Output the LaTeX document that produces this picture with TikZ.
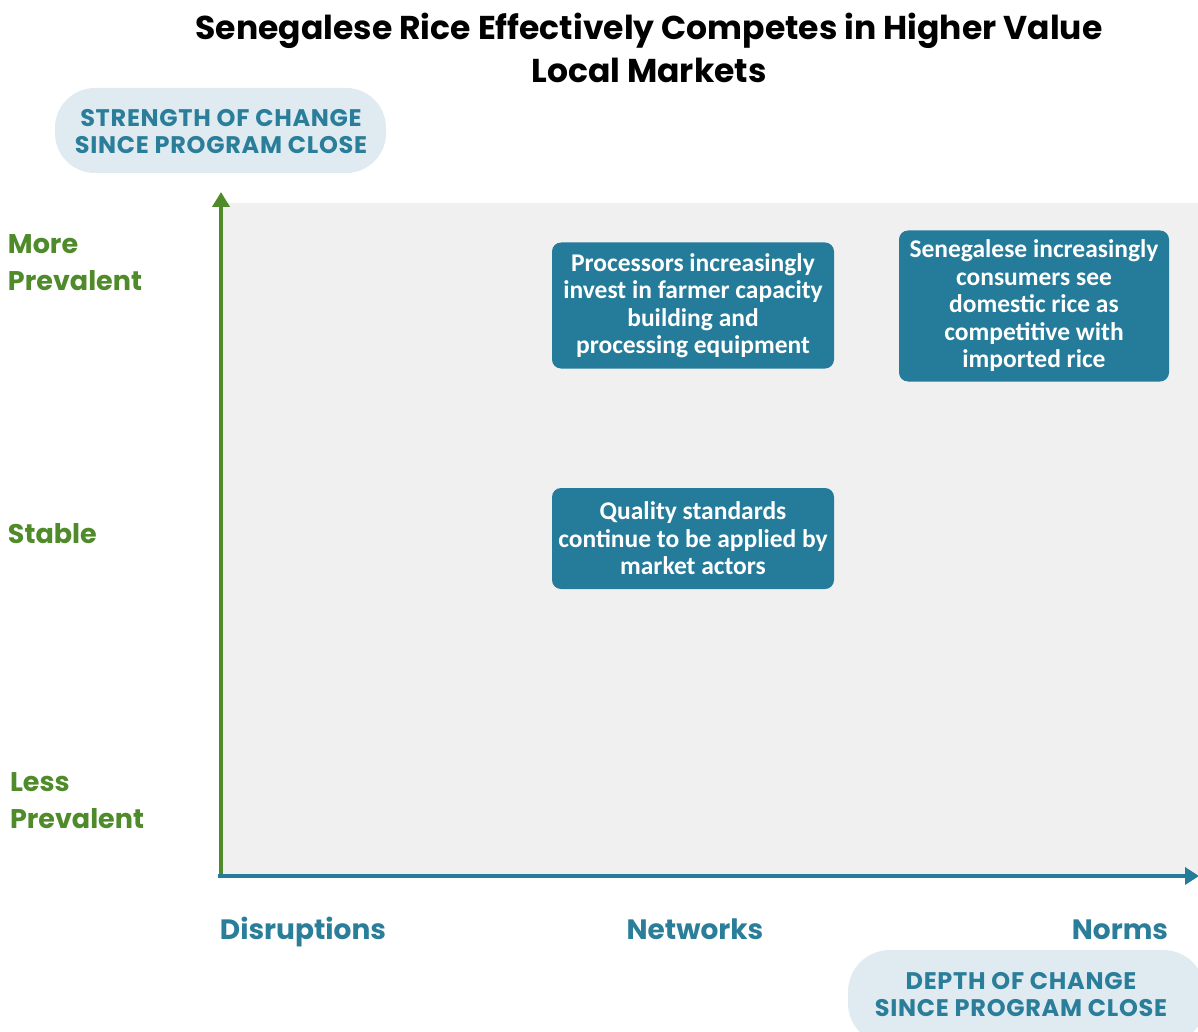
\documentclass[tikz,border=0pt]{standalone}
\usepackage{fontspec}
\setmainfont{Poppins}
\newfontfamily\boxfont{Carlito}
\newfontfamily\pillfont[LetterSpace=3]{Poppins}
\usetikzlibrary{arrows.meta}
\definecolor{teal1}{HTML}{247C9A}
\definecolor{tealtxt}{HTML}{2A7E99}
\definecolor{green1}{HTML}{4F8A2B}
\definecolor{pill}{HTML}{DFEAF1}
\definecolor{plot}{HTML}{F0F0F0}
\tikzset{
  every node/.style={inner sep=0pt, outer sep=0pt},
  card/.style={fill=teal1, rounded corners=9pt, align=center, text=white,
     font=\boxfont\bfseries\fontsize{25.5}{27.5}\selectfont},
  pilltext/.style={text=tealtxt, align=center, font=\pillfont\bfseries\fontsize{24}{27}\selectfont},
  ylab/.style={text=green1, align=left, anchor=north west, font=\bfseries\fontsize{27}{37}\selectfont},
  xlab/.style={text=tealtxt, anchor=base, font=\bfseries\fontsize{28}{30}\selectfont},
}
\begin{document}
\begin{tikzpicture}[x=1pt,y=-1pt]
\useasboundingbox (0,0) rectangle (1198,1032);
\fill[white] (0,0) rectangle (1198,1032);
% title
\node[align=center, font=\bfseries\fontsize{33}{43}\selectfont] (title) at (649,48)
  {Senegalese Rice Effectively Competes in Higher Value\\Local Markets};
% top-left pill
\fill[pill, rounded corners=40pt] (55,88) rectangle (386,173);
\node[pilltext] (ypill) at (221,132) {STRENGTH OF CHANGE\\SINCE PROGRAM CLOSE};
% plot area
\fill[plot] (221,203) rectangle (1198,875);
\coordinate (origin) at (221,876);
\coordinate (xstart) at (218,876);
\coordinate (ytop) at (221,192);
\coordinate (xend) at (1199,876);
\draw[green1, line width=4.5pt, -{Triangle[length=15pt,width=17pt]}] (221,877) -- (ytop);
\draw[teal1, line width=4.5pt, -{Triangle[length=14pt,width=17pt]}] (xstart) -- (xend);
% y labels
\node[ylab] (more) at (8,235) {More\\Prevalent};
\node[ylab] (stable) at (8,524) {Stable};
\node[ylab] (less) at (10,773) {Less\\Prevalent};
% x labels
\node[xlab] (disr) at (303,939) {Disruptions};
\node[xlab] (netw) at (695,939) {Networks};
\node[xlab] (norms) at (1120,939) {Norms};
% bottom-right pill
\begin{scope}
\clip (0,0) rectangle (1198,1032);
\fill[pill, rounded corners=42pt] (848,950) rectangle (1205,1045);
\end{scope}
\node[pilltext] (xpill) at (1021,995) {DEPTH OF CHANGE\\SINCE PROGRAM CLOSE};
% cards
\node[card, minimum width=282pt, minimum height=126pt] (c1) at (693,305.5)
  {Processors increasingly\\invest in farmer capacity\\building and\\processing equipment};
\node[card, minimum width=270pt, minimum height=151pt] (c2) at (1034,306)
  {Senegalese increasingly\\consumers see\\domestic rice as\\competitive with\\imported rice};
\node[card, minimum width=282pt, minimum height=101pt] (c3) at (693,538.5)
  {Quality standards\\continue to be applied by\\market actors};
\end{tikzpicture}
\end{document}
